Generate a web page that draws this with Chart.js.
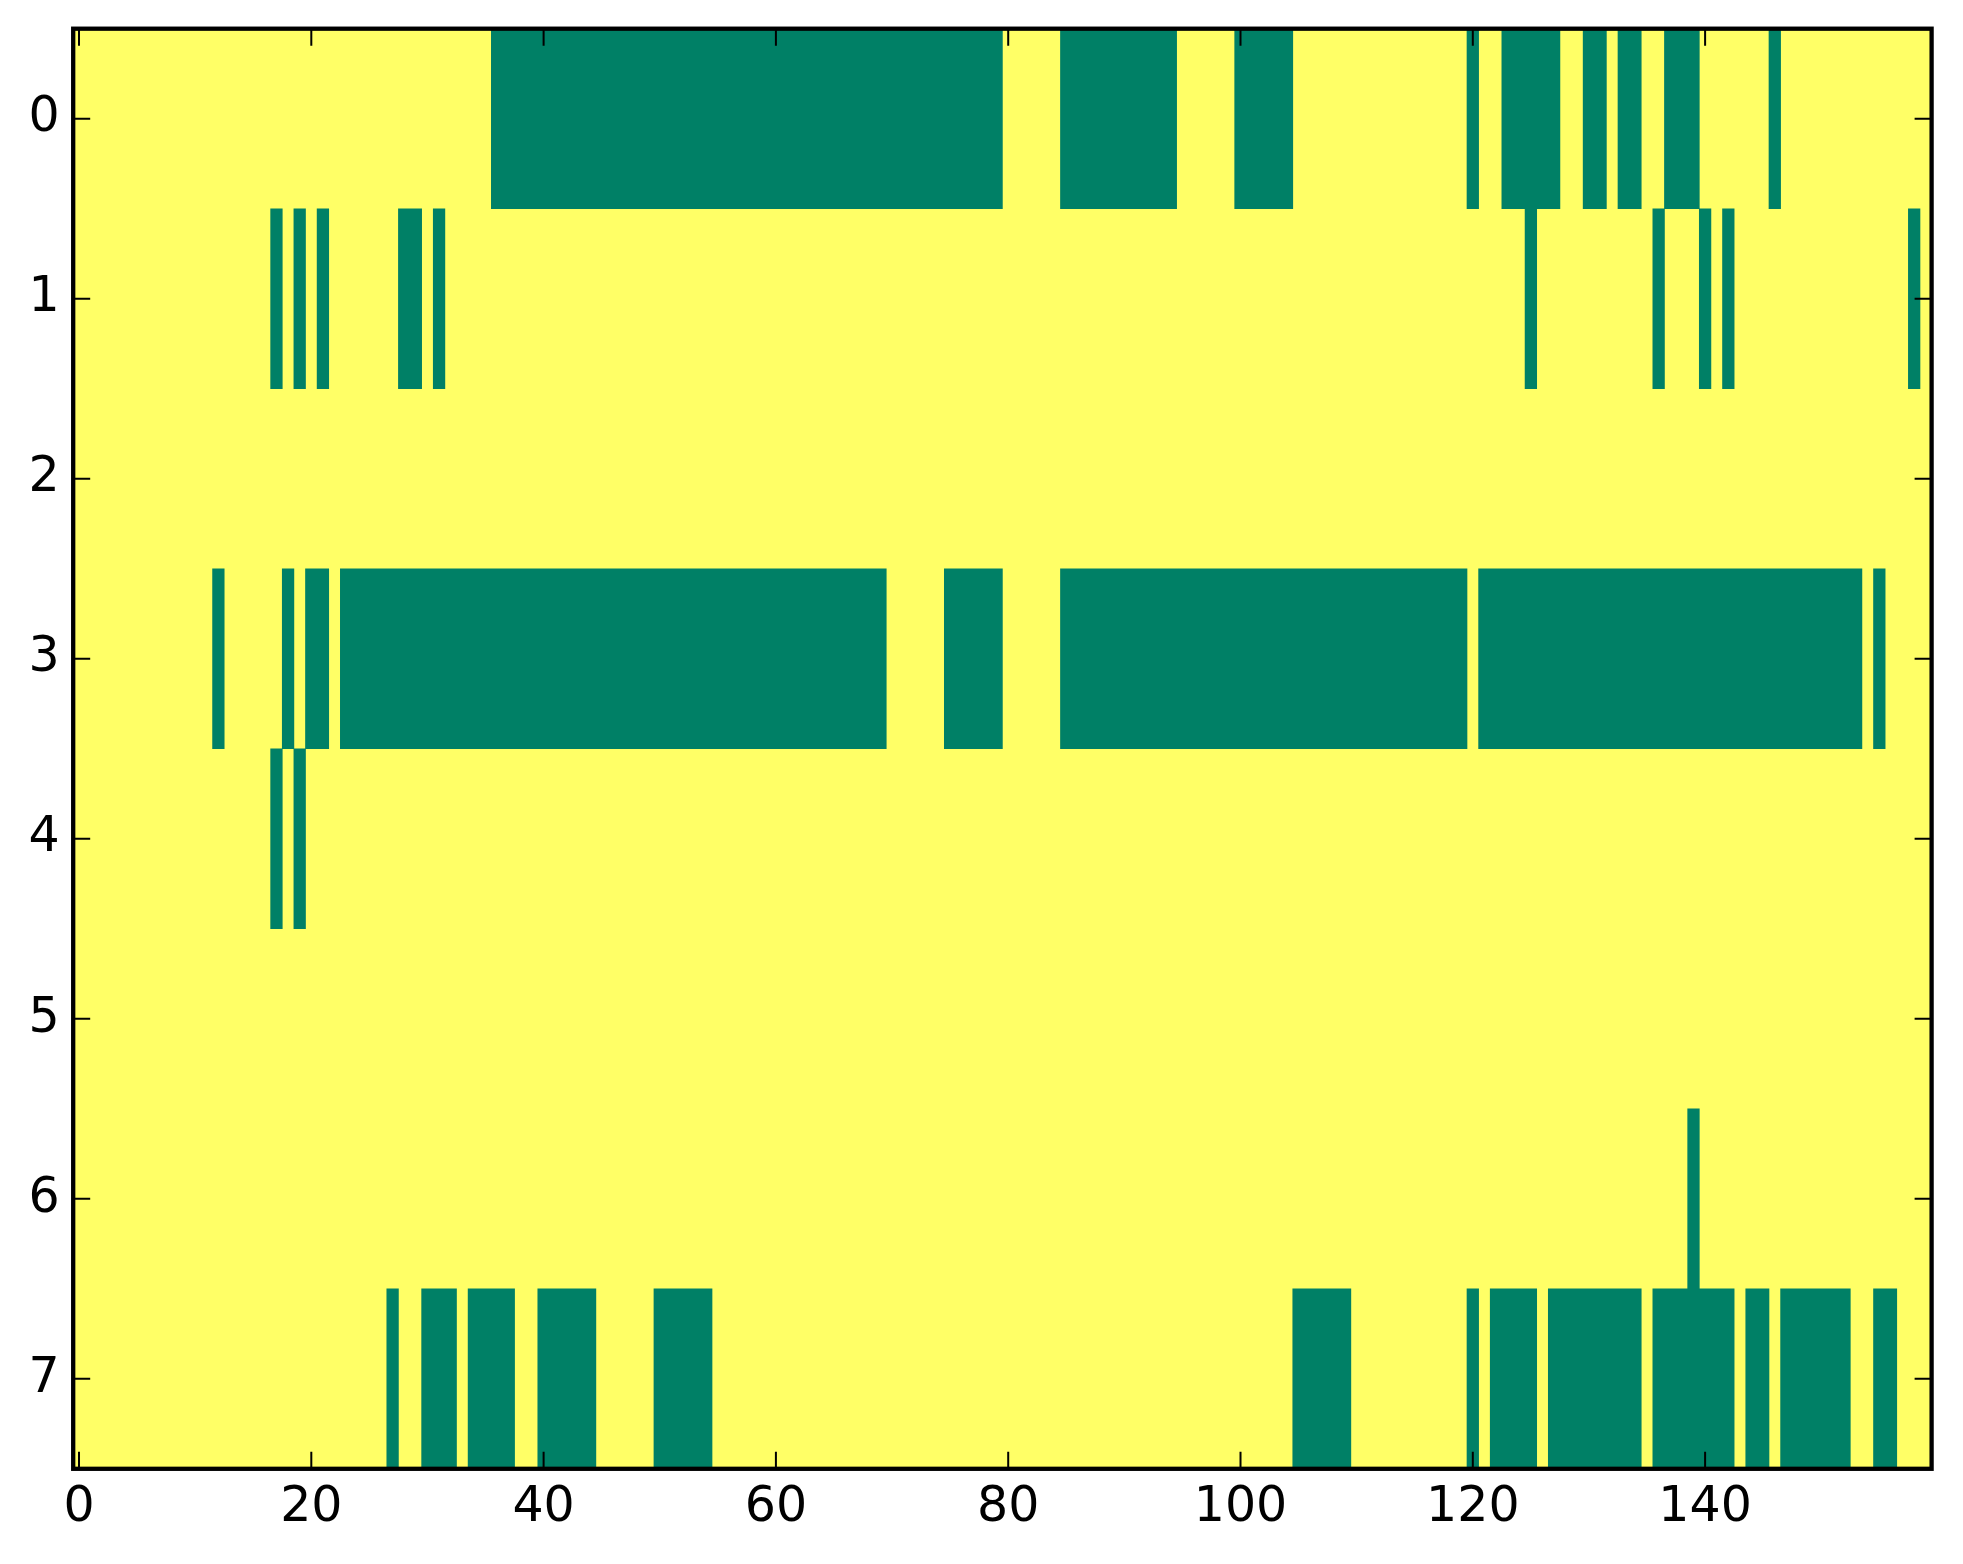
<!DOCTYPE html>
<html lang="en">
<head>
  <meta charset="UTF-8">
  <title>Binary matrix</title>
  <script src="https://cdn.jsdelivr.net/npm/chart.js@4"></script>
  <style>
    body { margin: 0; background: white; }
    #wrap { width: 1963px; height: 1564px; }
  </style>
</head>
<body>
<div id="wrap"><canvas id="chart" width="1963" height="1564"></canvas></div>

<script>
// axis labels
const rowLabels = ['0', '1', '2', '3', '4', '5', '6', '7'];
const xTicks = [0, 20, 40, 60, 80, 100, 120, 140];
const nCols = 160;

// green cells (value 0) as [first, last] column runs, one list per row
const row0 = [[36, 79], [85, 94], [100, 104], [120, 120], [123, 127], [130, 131], [133, 134], [137, 139], [146, 146]];
const row1 = [[17, 17], [19, 19], [21, 21], [28, 29], [31, 31], [125, 125], [136, 136], [140, 140], [142, 142], [158, 158]];
const row2 = [];
const row3 = [[12, 12], [18, 18], [20, 21], [23, 69], [75, 79], [85, 119], [121, 153], [155, 155]];
const row4 = [[17, 17], [19, 19]];
const row5 = [];
const row6 = [[139, 139]];
const row7 = [[27, 27], [30, 32], [34, 37], [40, 44], [50, 54], [105, 109], [120, 120], [122, 125], [127, 134], [136, 142], [144, 145], [147, 152], [155, 156]];
const rowRuns = [row0, row1, row2, row3, row4, row5, row6, row7];

const GREEN = '#008066';
const YELLOW = '#ffff66';

const cells = [];
rowRuns.forEach((runs, r) => {
  runs.forEach(([a, b]) => cells.push({ x: [a - 0.5, b + 0.5], y: rowLabels[r] }));
});

// yellow background, inward ticks on all sides, black frame
const framePlugin = {
  id: 'frame',
  beforeDatasetsDraw(chart) {
    const { ctx, chartArea: a } = chart;
    ctx.save();
    ctx.fillStyle = YELLOW;
    ctx.fillRect(a.left, a.top, a.right - a.left, a.bottom - a.top);
    ctx.restore();
  },
  afterDatasetsDraw(chart) {
    const { ctx, chartArea: a, scales } = chart;
    const len = 17;
    ctx.save();
    ctx.strokeStyle = '#000';
    ctx.lineWidth = 2;
    ctx.beginPath();
    xTicks.forEach(v => {
      const p = scales.x.getPixelForValue(v);
      ctx.moveTo(p, a.bottom); ctx.lineTo(p, a.bottom - len);
      ctx.moveTo(p, a.top); ctx.lineTo(p, a.top + len);
    });
    rowLabels.forEach((l, i) => {
      const p = scales.y.getPixelForValue(i);
      ctx.moveTo(a.left, p); ctx.lineTo(a.left + len, p);
      ctx.moveTo(a.right, p); ctx.lineTo(a.right - len, p);
    });
    ctx.stroke();
    ctx.lineWidth = 4.3;
    ctx.strokeRect(a.left, a.top, a.right - a.left, a.bottom - a.top);
    ctx.restore();
  }
};

const tickFont = { family: 'DejaVu Sans', size: 49 };

new Chart(document.getElementById('chart'), {
  type: 'bar',
  data: {
    labels: rowLabels,
    datasets: [{
      data: cells,
      backgroundColor: GREEN,
      borderWidth: 0,
      categoryPercentage: 1,
      barPercentage: 1
    }]
  },
  options: {
    indexAxis: 'y',
    responsive: false,
    devicePixelRatio: 1,
    animation: false,
    layout: { padding: { top: 28.7, right: 31.4, left: 0, bottom: 0 } },
    plugins: { legend: { display: false }, tooltip: { enabled: false } },
    scales: {
      x: {
        type: 'linear',
        min: -0.5,
        max: nCols - 0.5,
        grid: { display: false, drawTicks: false },
        border: { display: false },
        afterBuildTicks: s => { s.ticks = xTicks.map(v => ({ value: v })); },
        afterFit: s => { s.height = 1564 - 1468.8; s.paddingLeft = 0; s.paddingRight = 0; },
        ticks: { font: tickFont, color: '#000', padding: 10, maxRotation: 0, autoSkip: false }
      },
      y: {
        type: 'category',
        grid: { display: false, drawTicks: false },
        border: { display: false },
        afterFit: s => { s.width = 73.2; s.paddingTop = 0; s.paddingBottom = 0; },
        ticks: { font: tickFont, color: '#000', padding: 13.5 }
      }
    }
  },
  plugins: [framePlugin]
});
</script>
</body>
</html>
